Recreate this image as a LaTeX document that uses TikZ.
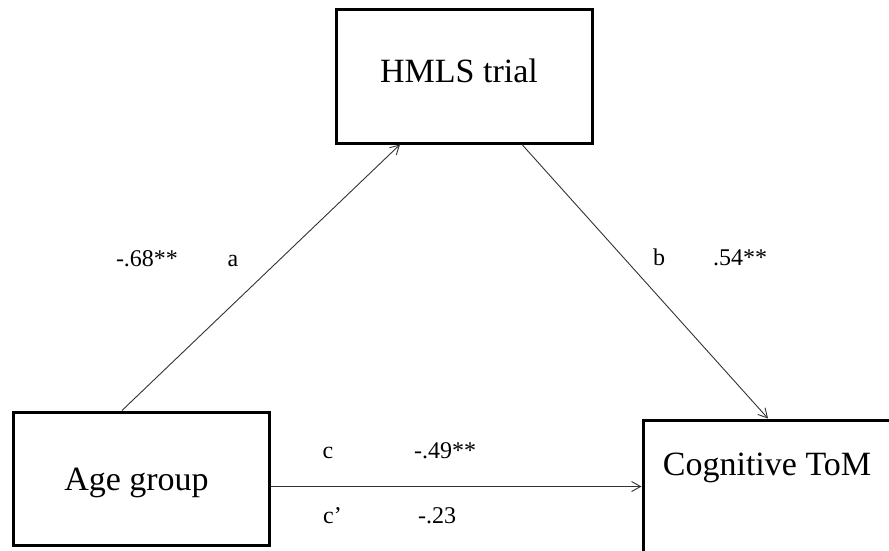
\documentclass[tikz,border=0pt]{standalone}
\usepackage{fontspec}
\setmainfont{Liberation Serif}
\usetikzlibrary{arrows.meta}
\begin{document}
\begin{tikzpicture}[x=1pt,y=-1pt,
  varbox/.style={draw=black,line width=3pt,minimum width=256pt,minimum height=133pt,
    inner sep=0pt,font=\fontsize{34}{40}\selectfont},
  path/.style={draw=black!80,line width=0.9pt,-{Straight Barb[length=9pt,width=10pt,line width=0.9pt]}},
  coef/.style={font=\fontsize{24}{28}\selectfont,inner sep=0pt,anchor=base}]
\useasboundingbox (0,0) rectangle (889,551);
\clip (0,0) rectangle (889,551);
\fill[white] (0,0) rectangle (889,551);
\node[varbox,text height=23pt,text depth=10pt] (hmls) at (464,76.5) {HMLS trial\kern10pt};
\node[varbox,text height=23pt,text depth=0pt] (age) at (141,478.5) {Age group\kern9pt};
\node[varbox,text height=23pt,text depth=46pt] (tom) at (771,486.5) {Cognitive ToM\kern8pt};
\draw[path] ([xshift=-19pt]age.north) -- ([xshift=-64pt]hmls.south);
\draw[path] ([xshift=58pt]hmls.south) -- ([xshift=-3pt]tom.north);
\draw[path] ([yshift=-8pt]age.east) -- (tom.west);
\node[coef] (la) at (147,266) {-.68**};
\node[coef] (lan) at (233,266) {a};
\node[coef] (lbn) at (659,265) {b};
\node[coef] (lb) at (740,265) {.54**};
\node[coef] (lcn) at (328,458) {c};
\node[coef] (lc) at (445,458) {-.49**};
\node[coef,anchor=base west] (lcpn) at (323,523) {c’};
\node[coef] (lcp) at (437,523) {-.23};
\end{tikzpicture}
\end{document}
